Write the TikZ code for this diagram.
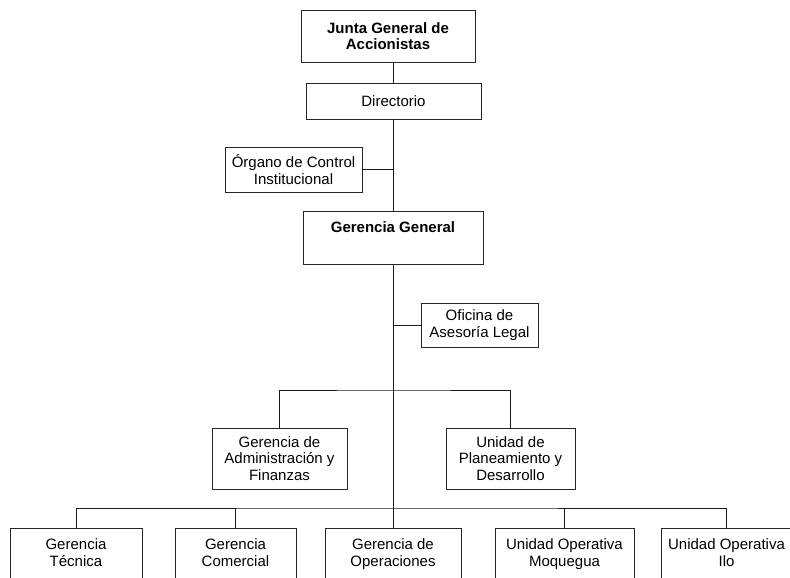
\documentclass[tikz,border=0pt]{standalone}
\usepackage{fontspec}
\setmainfont{Liberation Sans}
\newcommand{\BoxTop}[2]{\parbox[t]{#1}{\centering #2}}
\begin{document}
\begin{tikzpicture}[x=1pt,y=-1pt,
  box/.style={draw=black!85, line width=0.9pt, align=center, inner sep=2pt,
    font=\fontsize{15}{16.5}\selectfont},
  boldbox/.style={box, font=\fontsize{15}{16.5}\selectfont\bfseries},
  botbox/.style={draw=black!85, line width=0.9pt, anchor=north, inner sep=0pt,
    text height=20.7pt, text depth=60pt, font=\fontsize{15}{17.5}\selectfont},
  conn/.style={draw=black!90, line width=0.8pt}]
\useasboundingbox (0,0) rectangle (790,578);
% top levels
\node[boldbox, minimum width=174pt, minimum height=52pt] (junta) at (388,36) {Junta General de\\Accionistas};
\node[box, minimum width=175pt, minimum height=36pt] (dir) at (393.5,101) {Directorio};
\node[box, minimum width=137pt, minimum height=45pt] (org) at (293.5,169.5) {Órgano de Control\\Institucional};
\node[boldbox, anchor=north, minimum width=180pt, inner ysep=0pt, text height=21.4pt, text depth=31.6pt] (gg) at (393,211) {Gerencia General};
\node[box, minimum width=117pt, minimum height=44pt] (ofi) at (479.5,325) {Oficina de\\Asesoría Legal};
\node[box, minimum width=135pt, minimum height=61pt] (adm) at (279.5,458.5) {Gerencia de\\Administración y\\Finanzas};
\node[box, minimum width=129pt, minimum height=61pt] (upd) at (510.5,458.5) {Unidad de\\Planeamiento y\\Desarrollo};
% bottom row
\node[botbox] (tec) at (76,528) {\BoxTop{132pt}{Gerencia\\Técnica}};
\node[botbox] (com) at (235.5,528) {\BoxTop{121pt}{Gerencia\\Comercial}};
\node[botbox] (ope) at (393,528) {\BoxTop{136pt}{Gerencia de\\Operaciones}};
\node[botbox] (moq) at (564.5,528) {\BoxTop{139pt}{Unidad Operativa\\Moquegua}};
\node[botbox] (ilo) at (726.5,528) {\BoxTop{131pt}{Unidad Operativa\\Ilo}};
% connectors
\draw[conn] (dir.north) -- (dir.north |- junta.south);
\draw[conn] (dir.south) -- (dir.south |- gg.north);
\draw[conn] (org.east) -- (org.east -| dir.south);
\draw[conn] (gg.south) -- (ope.north);
\draw[conn] (ofi.west) -- (ofi.west -| gg.south);
\coordinate (hub1) at (393,390);
\draw[conn] (adm.north) |- (hub1) -| (upd.north);
\coordinate (hub2) at (393,508);
\draw[conn] (tec.north) |- (hub2) -| (ilo.north);
\draw[conn] (com.north) -- (com.north |- hub2);
\draw[conn] (moq.north) -- (moq.north |- hub2);
\end{tikzpicture}
\end{document}
